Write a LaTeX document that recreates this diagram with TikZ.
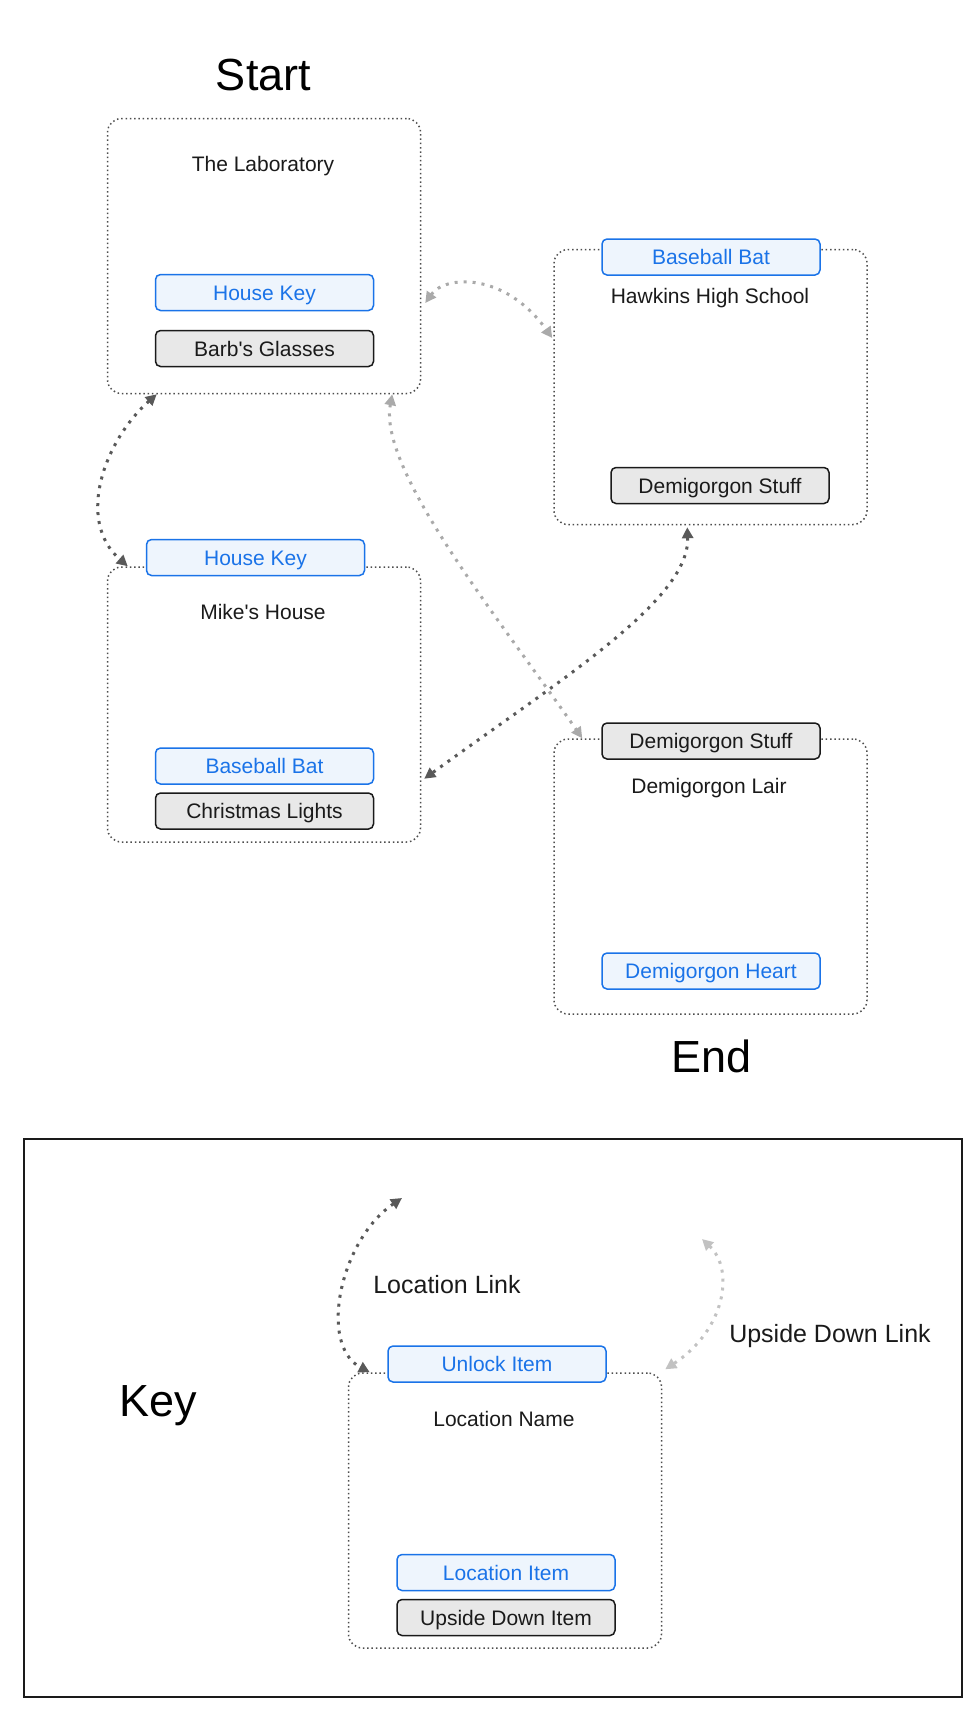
\documentclass[tikz,border=0pt]{standalone}
\usepackage{fontspec}
\setmainfont{Liberation Sans}[Ligatures=TeXOff]
\usetikzlibrary{arrows.meta}
\definecolor{itemblue}{HTML}{1A73E8}
\definecolor{itemfill}{HTML}{EEF5FD}
\definecolor{grayfill}{HTML}{E8E8E8}
\definecolor{inkdark}{HTML}{1A1A1A}
\definecolor{linkdark}{HTML}{595959}
\definecolor{linklight}{HTML}{AAAAAA}
\definecolor{linkpale}{HTML}{C2C2C2}
\definecolor{boxdots}{HTML}{4D4D4D}
\begin{document}
\begin{tikzpicture}[x=1pt,y=-1pt,
  every node/.style={font=\fontsize{21}{25}\selectfont, text height=15pt, text depth=0pt, inner sep=0pt},
  location/.style={draw=boxdots, line width=1.5pt, dash pattern=on 1.5pt off 2.8pt, rounded corners=14pt, minimum width=313pt, minimum height=275pt},
  unlockitem/.style={draw=itemblue, fill=itemfill, text=itemblue, line width=1.5pt, rounded corners=5pt, minimum width=218pt, minimum height=36pt},
  udthing/.style={draw=inkdark, fill=grayfill, text=inkdark, line width=1.5pt, rounded corners=5pt, minimum width=218pt, minimum height=36pt},
  placename/.style={text=inkdark},
  keynote/.style={text=inkdark, font=\fontsize{25}{30}\selectfont, text height=17.9pt},
  bigtitle/.style={text=black, font=\fontsize{45}{54}\selectfont, text height=32.2pt},
  tipped/.style={line width=3pt, dash pattern=on 3pt off 6pt, {Triangle[length=11pt,width=11pt]}-{Triangle[length=11pt,width=11pt]}},
  loclink/.style={tipped, draw=linkdark},
  udlink/.style={tipped, draw=linklight},
  udlinkpale/.style={tipped, draw=linkpale},
  keyframe/.style={draw=inkdark, line width=1.5pt, minimum width=938pt, minimum height=558pt}
]
\useasboundingbox (0,0) rectangle (976,1717);

% Titles
\node[bigtitle] (start) at (263.5,74) {Start};
\node[bigtitle] (end) at (711.5,1056) {End};

% Location boxes
\node[location] (lab) at (264,256) {};
\node[location] (hawk) at (710.5,387) {};
\node[location] (mike) at (264,704.5) {};
\node[location] (lair) at (710.5,876.5) {};

% The Laboratory
\node[placename] (labtitle) at (263,164) {The Laboratory};
\node[unlockitem] (labkey) at (264.5,292.5) {House Key};
\node[udthing] (labglasses) at (264.5,348.5) {Barb's Glasses};

% Hawkins High School
\node[unlockitem] (hawkbat) at (711,257) {Baseball Bat};
\node[placename] (hawktitle) at (710,296) {Hawkins High School};
\node[udthing] (hawkstuff) at (720,485.5) {Demigorgon Stuff};

% Mike's House
\node[unlockitem] (mikekey) at (255.5,557.5) {House Key};
\node[placename] (miketitle) at (263,612) {Mike's House};
\node[unlockitem] (mikebat) at (264.5,766) {Baseball Bat};
\node[udthing] (mikelights) at (264.5,811) {Christmas Lights};

% Demigorgon Lair
\node[udthing] (lairstuff) at (711,741) {Demigorgon Stuff};
\node[placename] (lairtitle) at (709,786) {Demigorgon Lair};
\node[unlockitem] (lairheart) at (711,971) {Demigorgon Heart};

% Links
\draw[loclink] ([xshift=50pt]lab.south west) .. controls (105,440) and (75,520) .. ([xshift=21pt]mike.north west);
\draw[udlink] ([xshift=-29pt]lab.south east) .. controls (378,470) and (500,620) .. ([xshift=29pt]lair.north west);
\draw[loclink] ([xshift=134pt,yshift=-2pt]hawk.south west) .. controls (690,600) and (560,680) .. ([xshift=3pt,yshift=64pt]mike.south east);
\draw[udlink] ([xshift=4pt,yshift=-47pt]lab.east) .. controls (445,275) and (505,272) .. ([xshift=-1pt,yshift=49pt]hawk.west);

% Key
\node[keyframe] (keybox) at (493,1418) {};
\node[bigtitle] (keytitle) at (158,1400) {Key};
\node[location] (loc) at (505,1510.5) {};
\node[unlockitem] (locunlock) at (497,1364) {Unlock Item};
\node[placename] (loctitle) at (504,1419) {Location Name};
\node[unlockitem] (locitem) at (506,1572.5) {Location Item};
\node[udthing] (locud) at (506,1617.5) {Upside Down Item};
\node[keynote] (linklabel) at (447,1285) {Location Link};
\node[keynote] (udlabel) at (830,1334) {Upside Down Link};
\coordinate (lltop) at (402,1198);
\coordinate (udtop) at (702,1239);
\draw[loclink] (lltop) .. controls (340,1240) and (318,1345) .. ([xshift=22pt]loc.north west);
\draw[udlinkpale] (udtop) .. controls (735,1270) and (725,1330) .. ([xshift=3pt,yshift=3pt]loc.north east);
\end{tikzpicture}
\end{document}
